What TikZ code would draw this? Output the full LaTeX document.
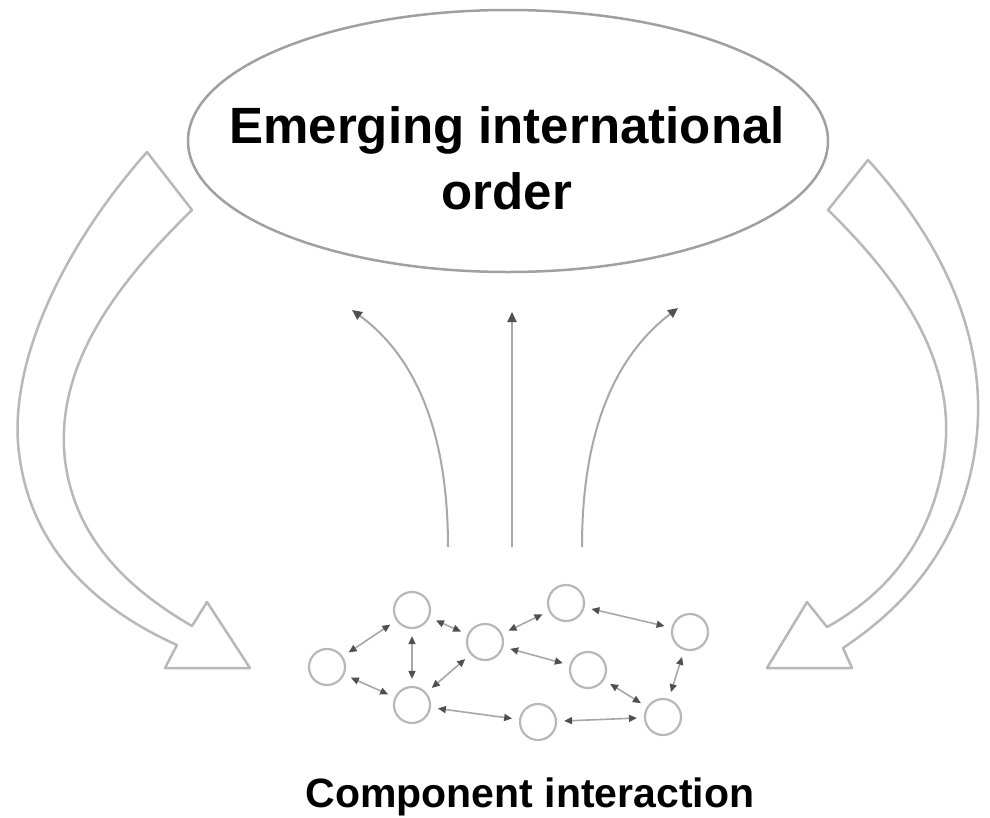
\documentclass[tikz,border=0pt]{standalone}
\usepackage{fontspec}
\setmainfont{Liberation Sans}
\usetikzlibrary{arrows.meta}
\definecolor{ringgray}{HTML}{A0A0A0}
\definecolor{blockgray}{HTML}{B8B8B8}
\definecolor{linegray}{HTML}{A8A8A8}
\definecolor{headgray}{HTML}{505050}
\tikzset{
  blockarrow/.style={draw=blockgray, line width=2.5pt, line join=round},
  riseline/.style={draw=linegray, line width=2pt, -{Triangle[length=10pt,width=9pt,color=headgray]}},
  comp/.style={circle, draw=blockgray, line width=2.2pt, minimum size=36pt, inner sep=0pt},
  link/.style={draw=linegray, line width=1.6pt, {Triangle[length=8pt,width=7pt,color=headgray]}-{Triangle[length=8pt,width=7pt,color=headgray]}, shorten <=7pt, shorten >=7pt}
}
\begin{document}
\begin{tikzpicture}[x=1pt,y=-1pt]
\useasboundingbox (0,0) rectangle (990,817);
\fill[white] (0,0) rectangle (990,817);
% emerging order ellipse
\draw[draw=ringgray, line width=2.5pt] (508,141) ellipse [x radius=320, y radius=131];
\node[inner sep=0pt, align=center, font=\fontsize{51}{66}\selectfont\bfseries] (order) at (507,158) {Emerging international\\order};
% left block arrow
\draw[blockarrow] (147,152) .. controls (60,250) and (5,370) .. (20,460)
  .. controls (35,560) and (110,615) .. (177,645)
  -- (165,668) -- (250,668) -- (207,602) -- (192,626)
  .. controls (130,590) and (75,540) .. (65,460)
  .. controls (55,370) and (110,290) .. (192,210) -- cycle;
% right block arrow
\draw[blockarrow] (868,160) .. controls (950,250) and (990,350) .. (975,450)
  .. controls (960,550) and (900,610) .. (843,648)
  -- (852,668) -- (767,668) -- (807,602) -- (827,627)
  .. controls (885,595) and (935,540) .. (945,450)
  .. controls (955,360) and (900,280) .. (828,210) -- cycle;
% rising arrows
\coordinate (l0) at (448,547); \coordinate (l1) at (352,310);
\coordinate (m0) at (512,547); \coordinate (m1) at (512,312);
\coordinate (r0) at (582,547); \coordinate (r1) at (678,308);
\draw[riseline] (l0) .. controls (448,440) and (420,360) .. (l1);
\draw[riseline] (m0) -- (m1);
\draw[riseline] (r0) .. controls (582,440) and (610,360) .. (r1);
% component network
\node[comp] (A) at (327,667) {};
\node[comp] (B) at (412,610) {};
\node[comp] (C) at (412,705) {};
\node[comp] (D) at (485,642) {};
\node[comp] (E) at (566,603) {};
\node[comp] (F) at (690,632) {};
\node[comp] (G) at (588,670) {};
\node[comp] (H) at (663,717) {};
\node[comp] (I) at (538,722) {};
\draw[link] (A) -- (B);
\draw[link] (A) -- (C);
\draw[link] (B) -- (C);
\draw[link] (B) -- (D);
\draw[link] (C) -- (D);
\draw[link] (D) -- (E);
\draw[link] (E) -- (F);
\draw[link] (D) -- (G);
\draw[link] (G) -- (H);
\draw[link] (F) -- (H);
\draw[link] (C) -- (I);
\draw[link] (I) -- (H);
\node[inner sep=0pt, anchor=base, font=\fontsize{41}{48}\selectfont\bfseries] (interaction) at (530,807) {Component interaction};
\end{tikzpicture}
\end{document}
